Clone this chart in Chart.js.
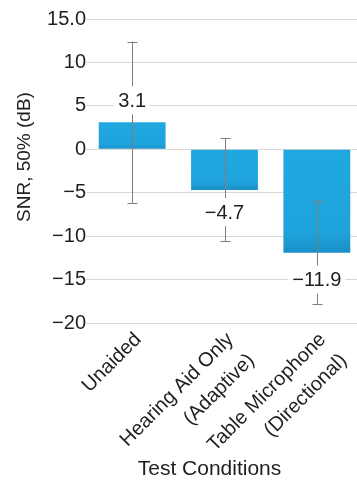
<!DOCTYPE html>
<html>
<head>
<meta charset="utf-8">
<script src="https://cdn.jsdelivr.net/npm/chart.js@4.4.1/dist/chart.umd.min.js"></script>
<style>
html,body{margin:0;padding:0;overflow:hidden;background:#fff;}
#wrap{width:363px;height:482px;}
</style>
</head>
<body>
<div id="wrap"><canvas id="c" width="363" height="482"></canvas></div>
<script>
// ---- data ----
const categories = [["Unaided"], ["Hearing Aid Only", "(Adaptive)"], ["Table Microphone", "(Directional)"]];
const meanSNR = [3.1, -4.7, -11.9];
const errUpper = [12.4, 1.3, -6.0];
const errLower = [-6.2, -10.6, -17.8];
const valueLabels = ["3.1", "\u22124.7", "\u221211.9"];
const yTicks = [15, 10, 5, 0, -5, -10, -15, -20];
const yTickLabels = ["15.0", "10", "5", "0", "\u22125", "\u221210", "\u221215", "\u221220"];
const yTitle = "SNR, 50% (dB)";
const xTitle = "Test Conditions";

const FONT = "'Liberation Sans', Arial, Helvetica, sans-serif";
const TEXT = "#1f1f1f";

function barFill(c) {
  const chart = c.chart;
  const ys = chart.scales && chart.scales.y;
  if (!chart.chartArea || !ys) return '#20a5de';
  const v = meanSNR[c.dataIndex];
  const p0 = ys.getPixelForValue(0), p1 = ys.getPixelForValue(v);
  const top = Math.min(p0, p1), bot = Math.max(p0, p1);
  const g = chart.ctx.createLinearGradient(0, top, 0, bot);
  g.addColorStop(0, '#21a8e1');
  g.addColorStop(0.8, '#1fa3dc');
  g.addColorStop(1, '#1a8fc6');
  return g;
}

const errorBars = {
  id: 'errorBars',
  afterDatasetsDraw(chart) {
    const ctx = chart.ctx, y = chart.scales.y;
    const meta = chart.getDatasetMeta(0);
    ctx.save();
    ctx.strokeStyle = '#857b77';
    ctx.lineWidth = 1;
    meta.data.forEach((bar, i) => {
      const x = Math.round(bar.x) + 0.5;
      const yt = y.getPixelForValue(errUpper[i]);
      const yb = y.getPixelForValue(errLower[i]);
      ctx.beginPath();
      ctx.moveTo(x, yt); ctx.lineTo(x, yb);
      ctx.moveTo(x - 5, Math.round(yt) + 0.5); ctx.lineTo(x + 5, Math.round(yt) + 0.5);
      ctx.moveTo(x - 5, Math.round(yb) + 0.5); ctx.lineTo(x + 5, Math.round(yb) + 0.5);
      ctx.stroke();
    });
    ctx.restore();
  }
};

const valueLabelPlugin = {
  id: 'valueLabelPlugin',
  afterDatasetsDraw(chart, args, opts) {
    const ctx = chart.ctx;
    const meta = chart.getDatasetMeta(0);
    ctx.save();
    ctx.font = "20px " + FONT;
    ctx.textAlign = 'center';
    ctx.textBaseline = 'middle';
    meta.data.forEach((bar, i) => {
      const v = meanSNR[i];
      const off = opts.offsets[i];
      const cy = v >= 0 ? bar.y - off : bar.y + off;
      const w = ctx.measureText(valueLabels[i]).width + 8;
      ctx.fillStyle = '#fff';
      ctx.fillRect(bar.x - w / 2, cy - 14, w, 28);
      ctx.fillStyle = TEXT;
      ctx.fillText(valueLabels[i], bar.x, cy + 1);
    });
    ctx.restore();
  }
};

const titlesPlugin = {
  id: 'titlesPlugin',
  afterDraw(chart) {
    const ctx = chart.ctx;
    ctx.save();
    ctx.fillStyle = TEXT;
    ctx.textAlign = 'center';
    ctx.textBaseline = 'middle';
    ctx.font = "21px " + FONT;
    ctx.fillText(xTitle, 209.5, 469);
    ctx.font = "19px " + FONT;
    ctx.translate(25, 157);
    ctx.rotate(-Math.PI / 2);
    ctx.fillText(yTitle, 0, 0);
    ctx.restore();
  }
};

new Chart(document.getElementById('c'), {
  type: 'bar',
  data: {
    labels: categories,
    datasets: [{
      data: meanSNR,
      backgroundColor: barFill,
      borderWidth: 0,
      barPercentage: 0.724,
      categoryPercentage: 1.0
    }]
  },
  plugins: [errorBars, valueLabelPlugin, titlesPlugin],
  options: {
    responsive: false,
    animation: false,
    layout: { padding: { top: 19, right: 0, left: 0, bottom: 0 } },
    plugins: {
      legend: { display: false },
      tooltip: { enabled: false },
      valueLabelPlugin: { offsets: [22, 22, 27] }
    },
    scales: {
      x: {
        grid: { display: false, drawTicks: false },
        border: { display: false },
        ticks: {
          color: TEXT,
          font: { family: FONT, size: 20, lineHeight: 1.48 },
          minRotation: 45, maxRotation: 45,
          padding: 3,
          labelOffset: 6
        },
        afterFit(scale) { scale.height = 159; }
      },
      y: {
        min: -20, max: 15,
        afterBuildTicks(scale) { scale.ticks = yTicks.map(v => ({ value: v })); },
        grid: { color: '#dcd7d3', drawTicks: false, lineWidth: 1 },
        border: { display: false },
        ticks: {
          color: TEXT,
          font: { family: FONT, size: 20 },
          padding: 0,
          callback(v) { const i = yTicks.indexOf(v); return i >= 0 ? yTickLabels[i] : ''; }
        },
        afterFit(scale) { scale.width = 86; }
      }
    }
  }
});
</script>
</body>
</html>
